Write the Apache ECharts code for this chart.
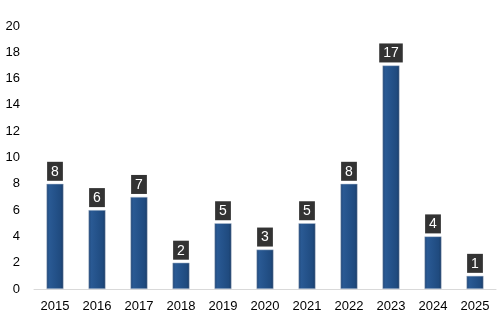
<!DOCTYPE html>
<html><head><meta charset="utf-8">
<script src="https://cdn.jsdelivr.net/npm/echarts@6/dist/echarts.min.js"></script>
<style>html,body{margin:0;padding:0;background:#fff}#c{width:501px;height:334px}</style>
</head><body><div id="c"></div>
<script>
var categories = ['2015','2016','2017','2018','2019','2020','2021','2022','2023','2024','2025'];
var values = [8,6,7,2,5,3,5,8,17,4,1];
var yTicks = {min:0, max:20, interval:2};

var chart = echarts.init(document.getElementById('c'), null, {renderer:'canvas'});
chart.setOption({
  animation:false,
  grid:{left:34, right:5, top:26, bottom:45},
  xAxis:{type:'category', data:categories,
    axisLine:{lineStyle:{color:'#d9d9d9'}}, axisTick:{show:false},
    axisLabel:{color:'#000', fontFamily:'Liberation Sans, Arial', fontSize:13, margin:11}},
  yAxis:{type:'value', min:yTicks.min, max:yTicks.max, interval:yTicks.interval,
    splitLine:{show:false}, axisLine:{show:false}, axisTick:{show:false},
    axisLabel:{color:'#000', fontFamily:'Liberation Sans, Arial', fontSize:13, margin:14}},
  series:[{type:'bar', data:values, barWidth:17,
    itemStyle:{color:new echarts.graphic.LinearGradient(0,0,1,0,[
      {offset:0,color:'#1a3f6e'},{offset:0.15,color:'#2a5a94'},{offset:0.5,color:'#24528a'},
      {offset:0.85,color:'#1f4a7e'},{offset:1,color:'#163660'}]),
      borderColor:'#b8c4d4', borderWidth:0.5},
    label:{show:true, position:'top', distance:3, color:'#fff', backgroundColor:'#333',
      padding:[3,4,2,4], lineHeight:14, fontFamily:'Liberation Sans, Arial', fontSize:14}
  }]
});
</script></body></html>
